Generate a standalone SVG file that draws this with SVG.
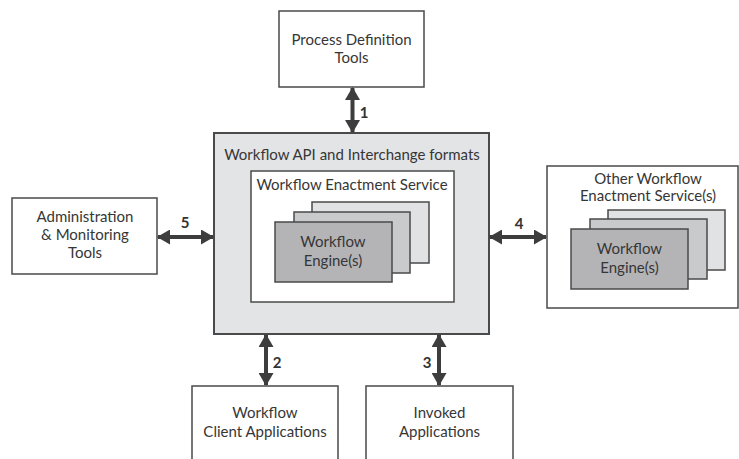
<svg xmlns="http://www.w3.org/2000/svg" width="739" height="459" viewBox="0 0 739 459">
  <defs>
    <marker id="head" viewBox="0 0 13 15" refX="12" refY="7.5" markerWidth="13" markerHeight="15" markerUnits="userSpaceOnUse" orient="auto-start-reverse">
      <path d="M0,0 L13,7.5 L0,15 Z" fill="#3d3d3d"/>
    </marker>
  </defs>
  <style>
    .box { fill: #ffffff; stroke: #4a4a4a; stroke-width: 1.5; }
    .api { fill: #e3e4e6; stroke: #4a4a4a; stroke-width: 2; }
    .card1 { fill: #e1e2e4; stroke: #4a4a4a; stroke-width: 1.5; }
    .card2 { fill: #c9cacc; stroke: #4a4a4a; stroke-width: 1.5; }
    .card3 { fill: #b4b4b6; stroke: #4a4a4a; stroke-width: 1.5; }
    text { font-family: Lato, "Open Sans", "Liberation Sans", sans-serif; font-size: 15px; fill: #363636; text-anchor: middle; }
    .num { font-weight: bold; font-size: 15px; fill: #333333; }
    .link { stroke: #3d3d3d; stroke-width: 4; fill: none; marker-start: url(#head); marker-end: url(#head); }
  </style>

  <!-- central API box with the enactment service and its engines -->
  <g id="api">
    <rect class="api" x="214" y="133" width="275" height="201"/>
    <text x="352" y="160">Workflow API and Interchange formats</text>
  </g>
  <g id="enactment-service">
    <rect class="box" x="251" y="171" width="203" height="131"/>
    <text x="352" y="190">Workflow Enactment Service</text>
    <rect class="card1" x="312" y="202" width="117" height="61"/>
    <rect class="card2" x="294" y="212" width="116" height="61"/>
    <rect class="card3" x="275" y="222" width="117" height="60"/>
    <text x="333" y="247">Workflow</text>
    <text x="333" y="266">Engine(s)</text>
  </g>

  <g id="process-definition">
    <rect class="box" x="279" y="11" width="145" height="76"/>
    <text x="351.5" y="45">Process Definition</text>
    <text x="351.5" y="63">Tools</text>
  </g>

  <g id="admin-monitoring">
    <rect class="box" x="12" y="198" width="145" height="76"/>
    <text x="85" y="222">Administration</text>
    <text x="85" y="240">&amp; Monitoring</text>
    <text x="85" y="258">Tools</text>
  </g>

  <g id="other-service">
    <rect class="box" x="547" y="166" width="191" height="142"/>
    <text x="648" y="184">Other Workflow</text>
    <text x="648" y="201">Enactment Service(s)</text>
    <rect class="card1" x="608" y="210" width="117" height="60"/>
    <rect class="card2" x="590" y="219" width="117" height="60"/>
    <rect class="card3" x="571" y="229" width="117" height="60"/>
    <text x="629.5" y="254">Workflow</text>
    <text x="629.5" y="273">Engine(s)</text>
  </g>

  <g id="client-apps">
    <rect class="box" x="192" y="386" width="146" height="80"/>
    <text x="265" y="418">Workflow</text>
    <text x="265" y="437">Client Applications</text>
  </g>

  <g id="invoked-apps">
    <rect class="box" x="366" y="386" width="147" height="80"/>
    <text x="439.5" y="418">Invoked</text>
    <text x="439.5" y="437">Applications</text>
  </g>

  <!-- numbered interfaces -->
  <g id="connectors">
    <line class="link" x1="352.5" y1="88" x2="352.5" y2="132"/>
    <line class="link" x1="266" y1="335" x2="266" y2="385"/>
    <line class="link" x1="439" y1="335" x2="439" y2="385"/>
    <line class="link" x1="490" y1="237" x2="546" y2="237"/>
    <line class="link" x1="158" y1="237" x2="213" y2="237"/>
    <text class="num" x="364" y="118">1</text>
    <text class="num" x="277" y="368">2</text>
    <text class="num" x="427" y="368">3</text>
    <text class="num" x="519" y="229">4</text>
    <text class="num" x="185" y="228">5</text>
  </g>
</svg>
